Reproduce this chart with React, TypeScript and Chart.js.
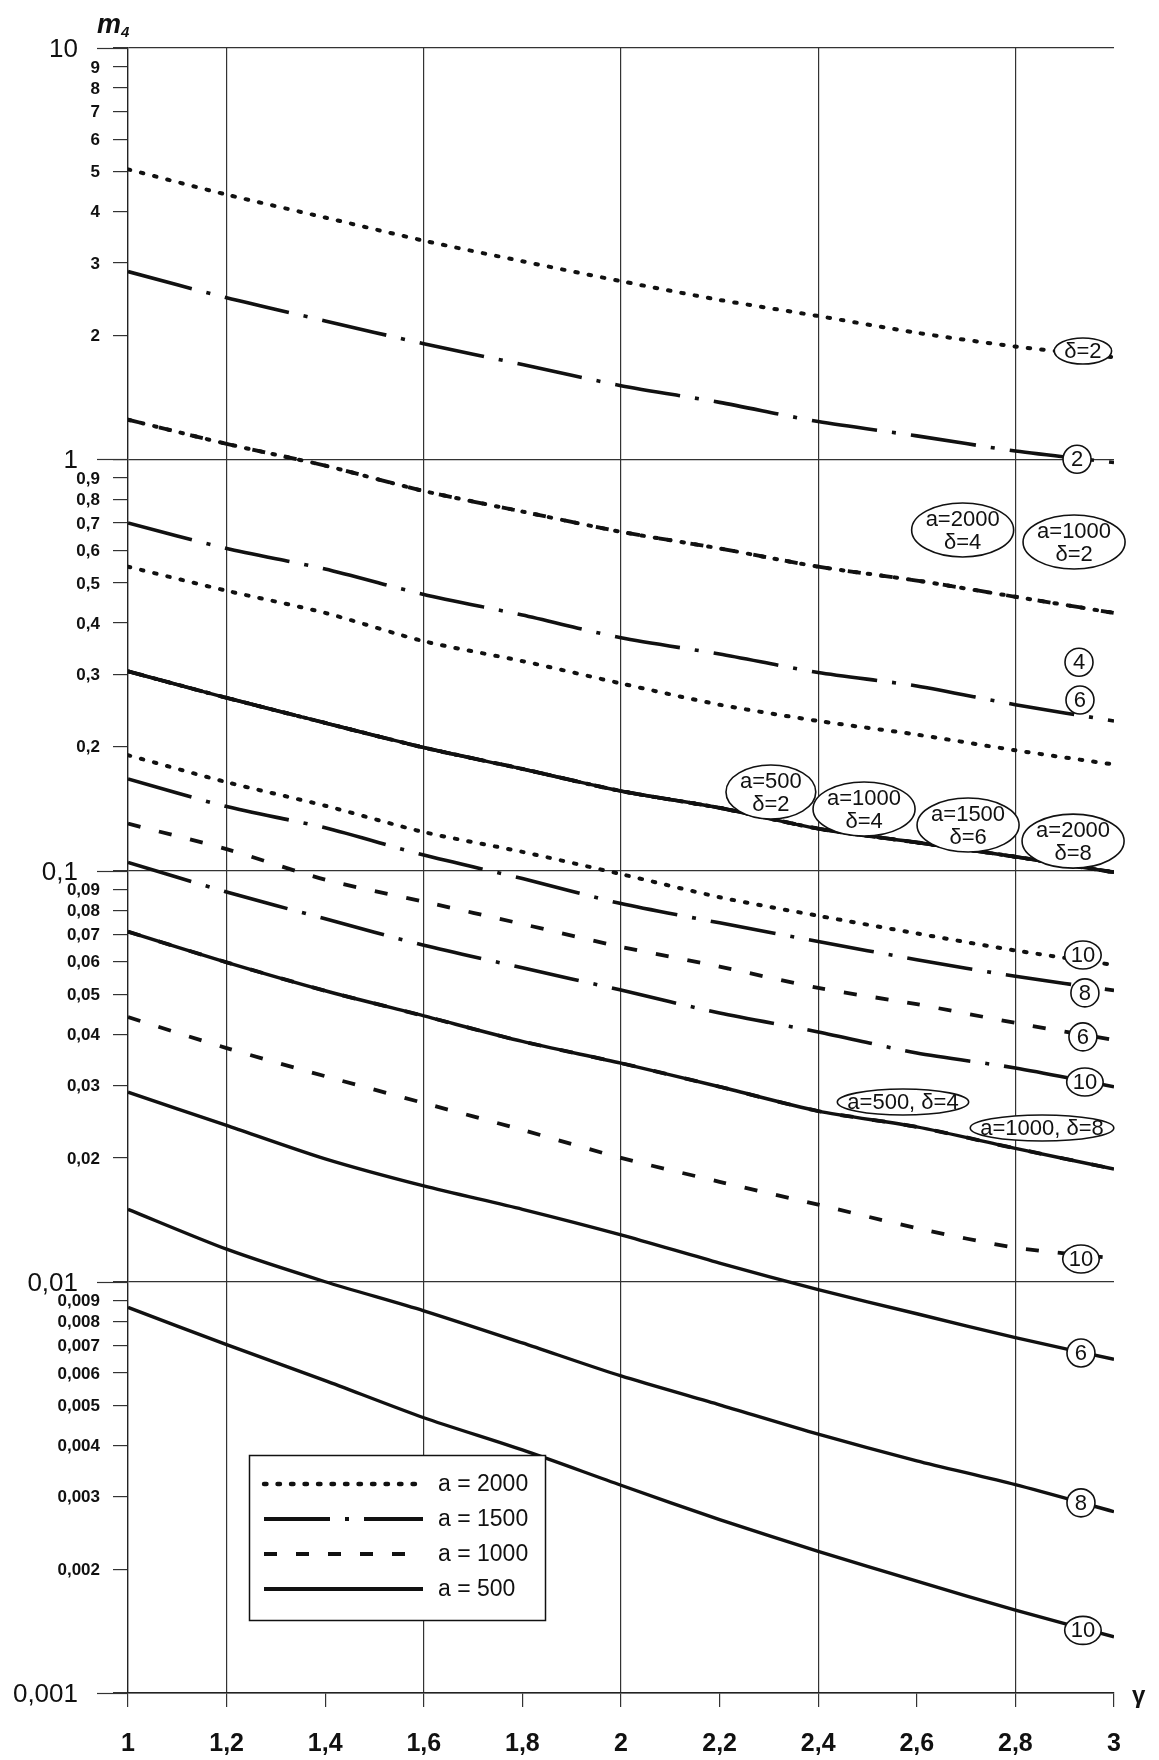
import React, { useEffect, useRef } from "react";
import { Chart, registerables } from "chart.js";

Chart.register(...registerables);

// ---------- axis data ----------
const gamma = [1, 1.2, 1.4, 1.6, 1.8, 2, 2.2, 2.4, 2.6, 2.8, 3];
const gammaTickLabels = ["1", "1,2", "1,4", "1,6", "1,8", "2", "2,2", "2,4", "2,6", "2,8", "3"];
const gammaGridLines = [1.2, 1.6, 2, 2.4, 2.8];

const m4Ticks = [
  0.001, 0.002, 0.003, 0.004, 0.005, 0.006, 0.007, 0.008, 0.009,
  0.01, 0.02, 0.03, 0.04, 0.05, 0.06, 0.07, 0.08, 0.09,
  0.1, 0.2, 0.3, 0.4, 0.5, 0.6, 0.7, 0.8, 0.9,
  1, 2, 3, 4, 5, 6, 7, 8, 9, 10,
];
const m4TickLabels = [
  "0,001", "0,002", "0,003", "0,004", "0,005", "0,006", "0,007", "0,008", "0,009",
  "0,01", "0,02", "0,03", "0,04", "0,05", "0,06", "0,07", "0,08", "0,09",
  "0,1", "0,2", "0,3", "0,4", "0,5", "0,6", "0,7", "0,8", "0,9",
  "1", "2", "3", "4", "5", "6", "7", "8", "9", "10",
];
const m4MajorTicks = [0.001, 0.01, 0.1, 1, 10];

// ---------- series (m4 at gamma = 1 ... 3) ----------
const a2000_d2 = [5.07, 4.4, 3.87, 3.4, 3.03, 2.71, 2.44, 2.23, 2.03, 1.88, 1.77];
const a1500_d2 = [2.86, 2.47, 2.17, 1.91, 1.7, 1.51, 1.375, 1.235, 1.14, 1.047, 0.982];
const a2000_d4 = [1.248, 1.09, 0.965, 0.837, 0.746, 0.666, 0.607, 0.548, 0.507, 0.463, 0.423];
const a1000_d2 = [1.248, 1.09, 0.965, 0.837, 0.746, 0.666, 0.607, 0.548, 0.507, 0.463, 0.423];
const a1500_d4 = [0.7, 0.607, 0.541, 0.469, 0.418, 0.368, 0.336, 0.303, 0.281, 0.253, 0.231];
const a2000_d6 = [0.548, 0.479, 0.423, 0.361, 0.323, 0.285, 0.253, 0.231, 0.214, 0.196, 0.181];
const a500_d2 = [0.305, 0.263, 0.2285, 0.199, 0.1766, 0.156, 0.142, 0.1264, 0.117, 0.108, 0.099];
const a1000_d4 = [0.305, 0.263, 0.2285, 0.199, 0.1766, 0.156, 0.142, 0.1264, 0.117, 0.108, 0.099];
const a1500_d6 = [0.305, 0.263, 0.2285, 0.199, 0.1766, 0.156, 0.142, 0.1264, 0.117, 0.108, 0.099];
const a2000_d8 = [0.305, 0.263, 0.2285, 0.199, 0.1766, 0.156, 0.142, 0.1264, 0.117, 0.108, 0.099];
const a2000_d10 = [0.1907, 0.164, 0.1437, 0.124, 0.111, 0.098, 0.0861, 0.0776, 0.0703, 0.0639, 0.0589];
const a1500_d8 = [0.167, 0.143, 0.127, 0.109, 0.0956, 0.0831, 0.0746, 0.0672, 0.0607, 0.0553, 0.0511];
const a1000_d6 = [0.13, 0.1127, 0.095, 0.084, 0.0741, 0.0652, 0.0584, 0.0518, 0.0473, 0.0426, 0.0387];
const a1500_d10 = [0.1046, 0.0887, 0.0763, 0.0658, 0.058, 0.0512, 0.045, 0.0405, 0.036, 0.0331, 0.0298];
const a500_d4 = [0.071, 0.0598, 0.051, 0.0443, 0.0384, 0.034, 0.0298, 0.026, 0.0238, 0.0211, 0.0188];
const a1000_d8 = [0.071, 0.0598, 0.051, 0.0443, 0.0384, 0.034, 0.0298, 0.026, 0.0238, 0.0211, 0.0188];
const a1000_d10 = [0.044, 0.037, 0.0316, 0.0272, 0.0234, 0.02, 0.0175, 0.0154, 0.0135, 0.0121, 0.0114];
const a500_d6 = [0.0289, 0.024, 0.0199, 0.0171, 0.015, 0.013, 0.0111, 0.00957, 0.00836, 0.00731, 0.00648];
const a500_d8 = [0.015, 0.012, 0.01, 0.0085, 0.0071, 0.0059, 0.00502, 0.00426, 0.00367, 0.00321, 0.00276];
const a500_d10 = [0.00866, 0.00703, 0.00575, 0.00467, 0.0039, 0.0032, 0.00264, 0.00221, 0.00187, 0.00159, 0.00137];

const seriesList: { a: number; delta: number; values: number[] }[] = [
  { a: 2000, delta: 2, values: a2000_d2 },
  { a: 2000, delta: 4, values: a2000_d4 },
  { a: 2000, delta: 6, values: a2000_d6 },
  { a: 2000, delta: 8, values: a2000_d8 },
  { a: 2000, delta: 10, values: a2000_d10 },
  { a: 1500, delta: 2, values: a1500_d2 },
  { a: 1500, delta: 4, values: a1500_d4 },
  { a: 1500, delta: 6, values: a1500_d6 },
  { a: 1500, delta: 8, values: a1500_d8 },
  { a: 1500, delta: 10, values: a1500_d10 },
  { a: 1000, delta: 2, values: a1000_d2 },
  { a: 1000, delta: 4, values: a1000_d4 },
  { a: 1000, delta: 6, values: a1000_d6 },
  { a: 1000, delta: 8, values: a1000_d8 },
  { a: 1000, delta: 10, values: a1000_d10 },
  { a: 500, delta: 2, values: a500_d2 },
  { a: 500, delta: 4, values: a500_d4 },
  { a: 500, delta: 6, values: a500_d6 },
  { a: 500, delta: 8, values: a500_d8 },
  { a: 500, delta: 10, values: a500_d10 },
];

// ---------- legend ----------
const legendA = [2000, 1500, 1000, 500];
const legendLabels = ["a = 2000", "a = 1500", "a = 1000", "a = 500"];

// ---------- callouts (anchored in data space) ----------
const calloutTexts = [
  "δ=2", "2", "a=2000|δ=4", "a=1000|δ=2", "4", "6",
  "a=500|δ=2", "a=1000|δ=4", "a=1500|δ=6", "a=2000|δ=8",
  "10", "8", "6", "10", "a=500, δ=4", "a=1000, δ=8", "10", "6", "8", "10",
];
const calloutGamma = [
  2.937, 2.925, 2.693, 2.919, 2.929, 2.931,
  2.304, 2.493, 2.704, 2.917,
  2.937, 2.941, 2.937, 2.941, 2.572, 2.854, 2.933, 2.933, 2.933, 2.937,
];
const calloutM4 = [
  1.833, 1.0, 0.673, 0.629, 0.321, 0.2598,
  0.1552, 0.1411, 0.129, 0.1179,
  0.0623, 0.0504, 0.0394, 0.0306, 0.02735, 0.02365, 0.01136, 0.00671, 0.0029, 0.00142,
];

// ---------- styles ----------
const INK = "#111";
const GRID = "#333";
const FONT = '"Liberation Sans", Arial, sans-serif';

const lineStyle: Record<number, { dash: number[]; cap: CanvasLineCap; width: number }> = {
  2000: { dash: [2.5, 11], cap: "round", width: 4 },
  1500: { dash: [66, 15, 4, 15], cap: "butt", width: 3.6 },
  1000: { dash: [13, 19], cap: "butt", width: 3.8 },
  500: { dash: [], cap: "butt", width: 3.4 },
};

function drawCallout(ctx: CanvasRenderingContext2D, cx: number, cy: number, text: string) {
  const lines = text.split("|");
  ctx.save();
  ctx.font = `22px ${FONT}`;
  const w = Math.max(...lines.map((l) => ctx.measureText(l).width));
  let rx: number;
  let ry: number;
  if (lines.length > 1) {
    rx = w / 2 + 14;
    ry = 27;
  } else if (text.length <= 2) {
    rx = Math.max(w / 2 + 6, 14);
    ry = 14;
  } else {
    rx = w / 2 + 10;
    ry = 13;
  }
  ctx.beginPath();
  ctx.ellipse(cx, cy, rx, ry, 0, 0, Math.PI * 2);
  ctx.fillStyle = "#fff";
  ctx.fill();
  ctx.lineWidth = 1.6;
  ctx.strokeStyle = INK;
  ctx.setLineDash([]);
  ctx.stroke();
  ctx.fillStyle = INK;
  ctx.textAlign = "center";
  ctx.textBaseline = "middle";
  if (lines.length > 1) {
    ctx.fillText(lines[0], cx, cy - 10);
    ctx.fillText(lines[1], cx, cy + 13);
  } else {
    ctx.fillText(text, cx, cy + 1);
  }
  ctx.restore();
}

const decorPlugin = {
  id: "decor",
  beforeDatasetsDraw(chart: any) {
    const { ctx, chartArea, scales } = chart;
    const y = scales.y;
    ctx.save();
    ctx.strokeStyle = GRID;
    ctx.lineWidth = 1.2;
    // extend decade gridlines to the left of the axis
    m4MajorTicks.forEach((v) => {
      const py = Math.round(y.getPixelForValue(v)) + 0.5;
      ctx.beginPath();
      ctx.moveTo(chartArea.left - 31, py);
      ctx.lineTo(chartArea.left, py);
      ctx.stroke();
    });
    ctx.restore();
  },
  afterDatasetsDraw(chart: any) {
    const { ctx, chartArea, scales } = chart;
    const x = scales.x;
    const y = scales.y;
    calloutTexts.forEach((t, i) => {
      drawCallout(ctx, x.getPixelForValue(calloutGamma[i]), y.getPixelForValue(calloutM4[i]), t);
    });

    // legend box
    const bx = chartArea.left + 121;
    const by = chartArea.bottom - 238;
    const bw = 296;
    const bh = 165;
    ctx.save();
    ctx.fillStyle = "#fff";
    ctx.fillRect(bx, by, bw, bh);
    ctx.strokeStyle = INK;
    ctx.lineWidth = 1.5;
    ctx.strokeRect(bx + 0.5, by + 0.5, bw, bh);
    legendA.forEach((a, i) => {
      const ly = by + 29 + i * 35;
      const st = lineStyle[a];
      ctx.beginPath();
      ctx.setLineDash(st.dash);
      ctx.lineCap = st.cap;
      ctx.lineWidth = st.width + 0.4;
      ctx.moveTo(bx + 15, ly);
      ctx.lineTo(bx + 174, ly);
      ctx.stroke();
      ctx.setLineDash([]);
      ctx.fillStyle = INK;
      ctx.font = `23px ${FONT}`;
      ctx.textAlign = "left";
      ctx.textBaseline = "middle";
      ctx.fillText(legendLabels[i], bx + 189, ly + 1);
    });
    ctx.restore();
  },
  afterDraw(chart: any) {
    const { ctx, chartArea, scales } = chart;
    const y = scales.y;
    ctx.save();
    ctx.fillStyle = INK;
    ctx.textAlign = "right";
    ctx.textBaseline = "middle";
    m4Ticks.forEach((v, i) => {
      const py = y.getPixelForValue(v);
      if (m4MajorTicks.includes(v)) {
        ctx.font = `26px ${FONT}`;
        ctx.fillText(m4TickLabels[i], chartArea.left - 50, py + 2);
      } else {
        ctx.font = `bold 17px ${FONT}`;
        ctx.fillText(m4TickLabels[i], chartArea.left - 28, py + 1);
      }
    });
    // axis titles
    ctx.textAlign = "left";
    ctx.textBaseline = "alphabetic";
    ctx.font = `italic bold 27px ${FONT}`;
    ctx.fillText("m", chartArea.left - 31, chartArea.top - 15);
    ctx.font = `italic bold 15px ${FONT}`;
    ctx.fillText("4", chartArea.left - 7, chartArea.top - 11);
    ctx.font = `bold 24px ${FONT}`;
    ctx.textBaseline = "middle";
    ctx.fillText("γ", chartArea.right + 18, chartArea.bottom + 3);
    ctx.restore();
  },
};

export default function App() {
  const ref = useRef<HTMLCanvasElement>(null);

  useEffect(() => {
    if (!ref.current) return;
    const order = [2000, 1500, 1000, 500];
    const datasets = order.flatMap((a) =>
      seriesList
        .filter((s) => s.a === a)
        .map((s) => ({
          label: `a=${s.a}, δ=${s.delta}`,
          data: s.values.map((v, i) => ({ x: gamma[i], y: v })),
          borderColor: INK,
          borderWidth: lineStyle[a].width,
          borderDash: lineStyle[a].dash,
          borderCapStyle: lineStyle[a].cap,
          pointRadius: 0,
          fill: false,
          tension: 0.25,
        }))
    );

    const chart = new Chart(ref.current, {
      type: "line",
      data: { datasets },
      options: {
        animation: false,
        responsive: false,
        devicePixelRatio: 1,
        layout: { padding: { top: 48, right: 45, left: 0, bottom: 0 } },
        plugins: {
          legend: { display: false },
          tooltip: { enabled: false },
          title: { display: false },
        },
        scales: {
          x: {
            type: "linear",
            min: 1,
            max: 3,
            afterBuildTicks: (s: any) => {
              s.ticks = gamma.map((v) => ({ value: v }));
            },
            afterFit: (s: any) => {
              s.height = 67;
            },
            ticks: {
              autoSkip: false,
              maxRotation: 0,
              padding: 22,
              color: INK,
              font: { family: FONT, size: 25, weight: "bold" },
              callback: (_v: any, i: number) => gammaTickLabels[i],
            },
            grid: {
              color: (c: any) =>
                c.tick && gammaGridLines.some((g) => Math.abs(g - c.tick.value) < 1e-6) ? GRID : "rgba(0,0,0,0)",
              tickColor: GRID,
              tickLength: 14,
              lineWidth: 1.2,
            },
            border: { display: true, color: "#222", width: 1.4 },
          },
          y: {
            type: "logarithmic",
            min: 0.001,
            max: 10,
            afterBuildTicks: (s: any) => {
              s.ticks = m4Ticks.map((v) => ({ value: v, major: m4MajorTicks.includes(v) }));
            },
            afterFit: (s: any) => {
              s.width = 128;
            },
            ticks: { display: false, autoSkip: false },
            grid: {
              color: (c: any) => (c.tick && m4MajorTicks.includes(c.tick.value) ? GRID : "rgba(0,0,0,0)"),
              tickColor: GRID,
              tickLength: 15,
              lineWidth: 1.2,
            },
            border: { display: true, color: "#222", width: 1.4 },
          },
        },
      } as any,
      plugins: [decorPlugin],
    });
    return () => chart.destroy();
  }, []);

  return (
    <canvas
      ref={ref}
      width={1159}
      height={1760}
      style={{ position: "absolute", left: 0, top: 0, display: "block", background: "#fff" }}
    />
  );
}
